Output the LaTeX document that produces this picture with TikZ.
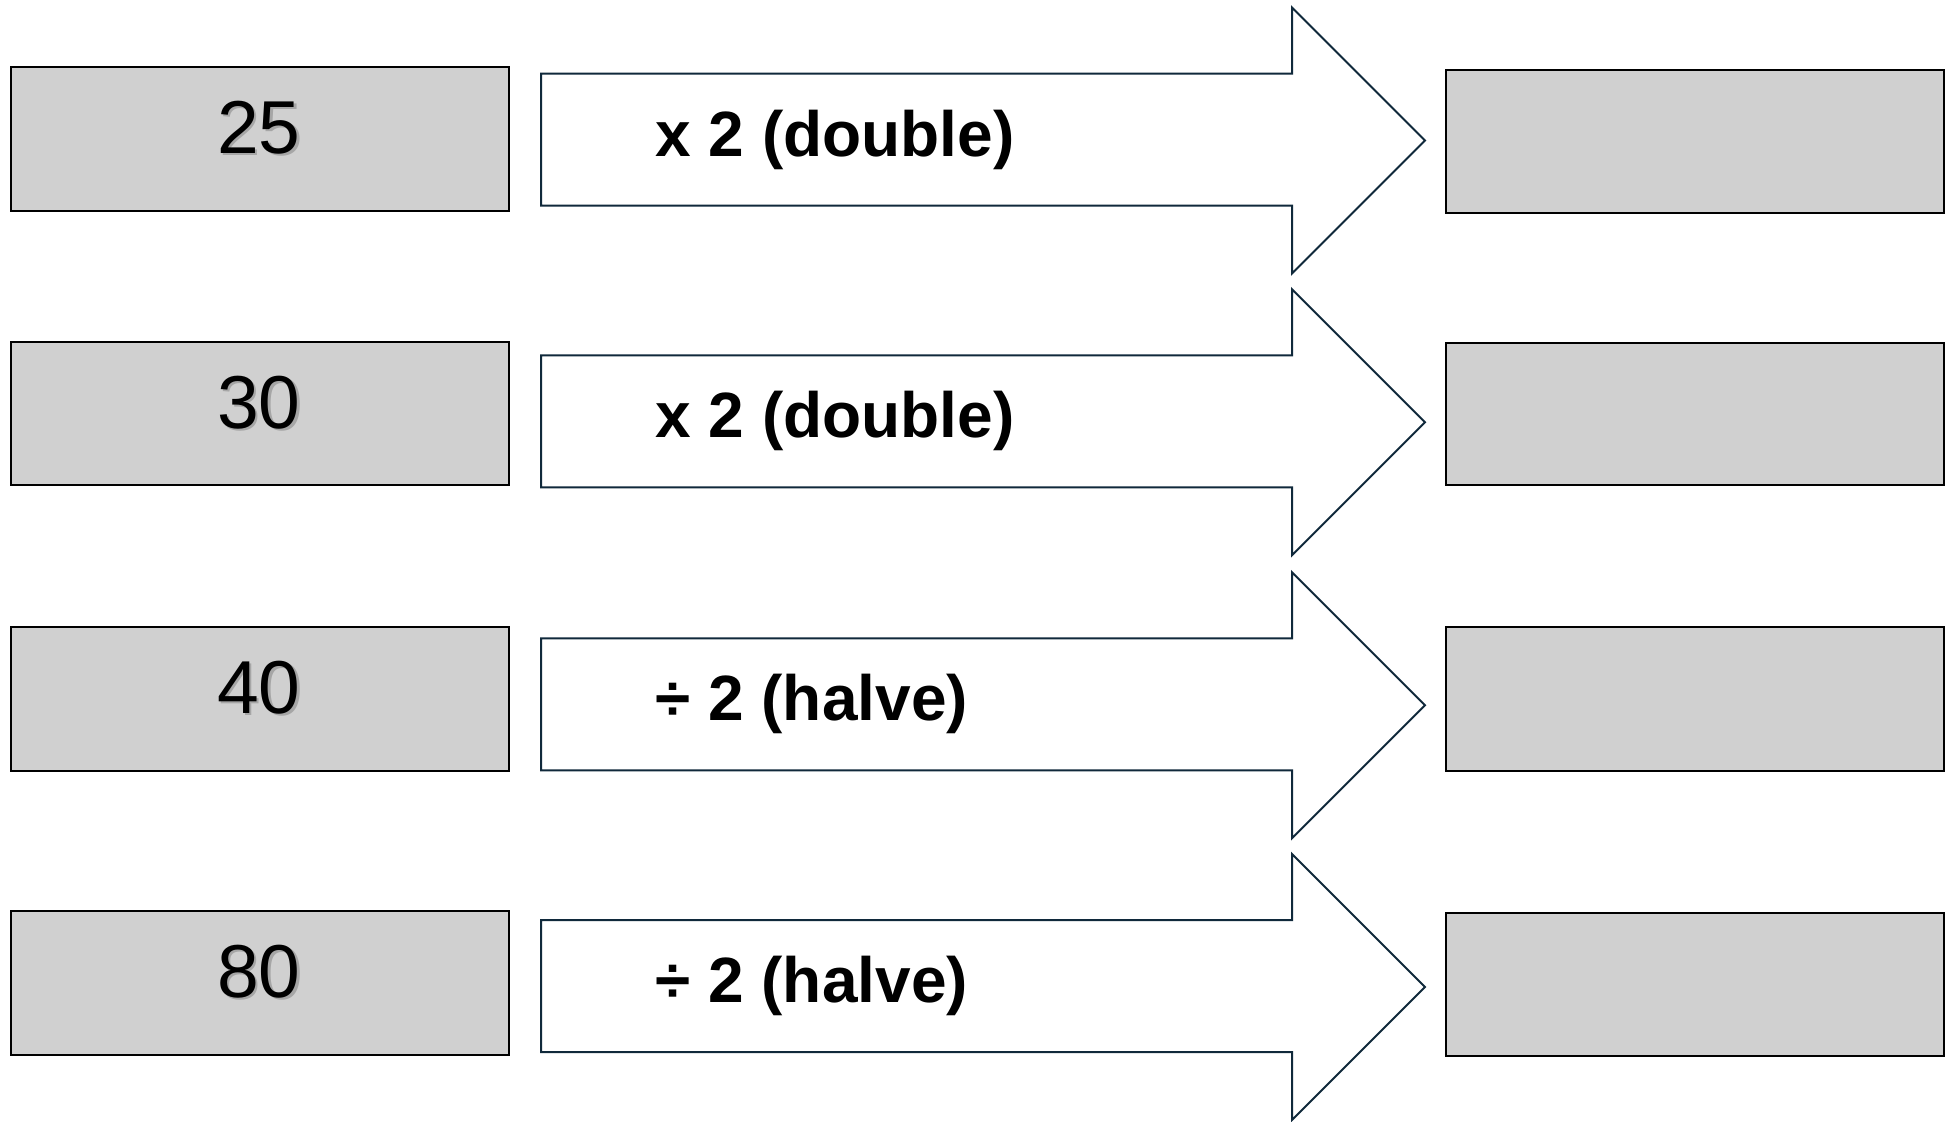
\documentclass[tikz,border=0pt]{standalone}
\usepackage{fontspec}
\setmainfont{Liberation Sans}
\definecolor{boxfill}{HTML}{D0D0D0}
\definecolor{arrline}{HTML}{10293B}
\begin{document}
\begin{tikzpicture}[x=0.5pt,y=-0.5pt,
  valbox/.style={draw=black,line width=1pt,fill=boxfill},
  arrowshape/.style={draw=arrline,line width=1pt,fill=white,line join=miter},
  numtxt/.style={inner sep=0pt,anchor=base,font=\fontsize{37.5}{40}\selectfont},
  numshadow/.style={numtxt,text=black!35},
  optxt/.style={inner sep=0pt,anchor=base west,font=\fontsize{32}{36}\selectfont\bfseries}]
\useasboundingbox (0,0) rectangle (1955,1121);
\fill[white] (0,0) rectangle (1955,1121);
% rows: left top, left bottom, right top, right bottom, arrow top, number, label
\foreach \lt/\lb/\rt/\rb/\at/\num/\lab/\i in {
  67/211/70/213/7.5/25/{x 2 (double)}/1,
  342/485/343/485/289.3/30/{x 2 (double)}/2,
  627/771/627/771/572.3/40/{÷ 2 (halve)}/3,
  911/1055/913/1056/854/80/{÷ 2 (halve)}/4}{
  \draw[valbox] (11,\lt) rectangle (509,\lb);
  \coordinate (in\i) at (259,\lt+86);
  \node[numshadow] at ([shift={(2.5,2.5)}]in\i) {\num};
  \node[numtxt] (n\i) at (in\i) {\num};
  \draw[arrowshape] (541,\at+66) -- (1292,\at+66) -- (1292,\at) -- (1425,\at+133)
     -- (1292,\at+266) -- (1292,\at+198) -- (541,\at+198) -- cycle;
  \node[optxt] (op\i) at (655,\at+148.5) {\lab};
  \draw[valbox] (1446,\rt) rectangle (1944,\rb);
  \coordinate (out\i) at (1695,\rt/2+\rb/2);
}
\end{tikzpicture}
\end{document}
